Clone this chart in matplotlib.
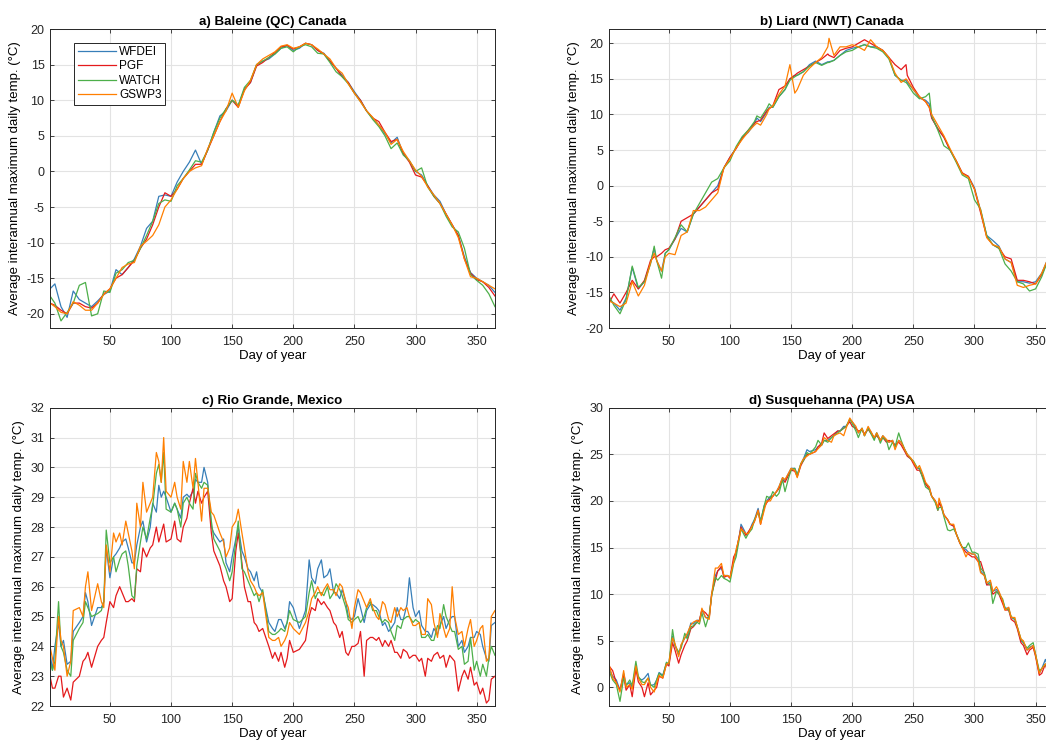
import numpy as np
import matplotlib
matplotlib.use("Agg")
import matplotlib.pyplot as plt

plt.rcParams['font.family'] = ['Liberation Sans', 'DejaVu Sans']
plt.rcParams['axes.unicode_minus'] = False

names = ["WFDEI", "PGF", "WATCH", "GSWP3"]
colors = ["#377eb8", "#e41a1c", "#4daf4a", "#ff7f00"]

# ---- a) Baleine (QC) Canada ----
days_a = [1, 5, 10, 15, 20, 25, 30, 35, 40, 45, 50, 55, 60, 65, 70, 75, 80, 85, 90, 95,
          100, 105, 110, 115, 120, 125, 130, 135, 140, 145, 150, 155, 160, 165, 170, 175,
          180, 185, 190, 195, 200, 205, 210, 215, 220, 225, 230, 235, 240, 245, 250, 255,
          260, 265, 270, 275, 280, 285, 290, 295, 300, 305, 310, 315, 320, 325, 330, 335,
          340, 345, 350, 355, 360, 365]
wfdei_a = [-16.5, -15.8, -19.0, -20.5, -16.8, -18.0, -18.5, -19.0, -18.2, -17.3, -16.8, -13.8,
           -14.5, -13.5, -12.3, -10.5, -8.0, -7.0, -3.5, -3.3, -3.5, -1.5, 0.0, 1.3, 3.0, 1.0,
           3.0, 5.5, 7.8, 8.5, 10.0, 9.3, 11.5, 12.5, 15.0, 15.5, 15.8, 16.5, 17.3, 17.7, 17.0,
           17.3, 18.0, 17.8, 17.0, 16.6, 15.5, 14.5, 13.5, 12.5, 11.2, 10.0, 8.5, 7.5, 6.5, 5.3,
           4.0, 4.8, 2.5, 1.5, 0.0, -0.5, -2.0, -3.3, -4.2, -6.0, -7.5, -9.0, -12.0, -14.2,
           -15.0, -15.5, -16.0, -17.0]
pgf_a = [-18.5, -18.8, -19.5, -20.0, -18.5, -18.5, -19.0, -19.2, -18.5, -17.2, -16.5, -15.0,
         -14.5, -13.5, -12.5, -10.8, -9.5, -7.5, -5.0, -3.0, -3.5, -2.5, -1.0, 0.0, 1.0, 1.0,
         3.0, 5.0, 7.0, 8.8, 10.0, 9.0, 11.5, 12.5, 14.8, 15.3, 16.0, 16.7, 17.5, 17.7, 17.2,
         17.5, 18.0, 17.8, 17.0, 16.5, 15.5, 14.5, 13.3, 12.5, 11.0, 10.0, 8.5, 7.5, 7.0, 5.5,
         4.2, 4.5, 2.5, 1.3, -0.5, -0.8, -2.0, -3.5, -4.5, -6.0, -7.5, -9.0, -12.3, -14.3,
         -15.2, -15.5, -16.3, -17.5]
watch_a = [-17.5, -18.5, -21.0, -19.8, -18.5, -16.0, -15.6, -20.3, -20.0, -16.8, -17.0, -14.3,
           -13.8, -12.8, -12.5, -10.8, -9.0, -7.0, -4.5, -4.0, -4.2, -2.0, -1.0, 0.2, 1.5, 1.3,
           3.0, 5.5, 7.5, 8.8, 10.0, 9.3, 11.8, 12.8, 15.0, 15.5, 16.0, 16.5, 17.3, 17.5, 16.8,
           17.5, 17.8, 17.5, 16.6, 16.5, 15.3, 14.0, 13.3, 12.3, 11.0, 9.8, 8.5, 7.3, 6.3, 5.0,
           3.2, 4.0, 2.3, 1.5, 0.0, 0.5, -2.2, -3.5, -4.5, -6.3, -7.8, -8.5, -10.8, -14.5,
           -15.3, -16.0, -17.2, -19.0]
gswp3_a = [-18.5, -19.0, -19.8, -20.0, -18.3, -18.8, -19.5, -19.5, -18.5, -17.3, -16.5, -15.0,
           -13.5, -13.0, -12.8, -10.5, -9.8, -9.0, -7.5, -5.0, -4.0, -2.5, -1.0, 0.0, 0.5, 0.8,
           3.2, 5.0, 7.0, 8.5, 11.0, 9.0, 11.3, 12.8, 15.0, 15.8, 16.3, 16.8, 17.6, 17.8, 17.3,
           17.5, 18.0, 17.8, 17.2, 16.5, 15.8, 14.5, 13.8, 12.3, 11.0, 9.8, 8.5, 7.6, 6.5, 5.5,
           3.8, 4.5, 2.8, 1.5, 0.2, -0.7, -2.2, -3.3, -4.5, -6.0, -7.5, -9.3, -12.3, -14.8,
           -15.0, -15.5, -16.0, -16.5]

# ---- b) Liard (NWT) Canada ----
days_b = [1, 5, 10, 15, 20, 25, 30, 35, 38, 40, 44, 47, 50, 55, 60, 65, 70, 75, 80, 85, 90,
          95, 100, 105, 110, 115, 120, 122, 125, 130, 132, 135, 140, 145, 149, 153, 155, 160,
          165, 170, 175, 180, 181, 185, 190, 195, 200, 205, 210, 215, 220, 225, 230, 235, 240,
          244, 245, 250, 255, 260, 263, 265, 270, 275, 280, 285, 290, 295, 300, 305, 310, 315,
          320, 325, 330, 335, 340, 345, 350, 355, 360, 365]
wfdei_b = [-16.0, -16.5, -17.5, -15.8, -11.5, -14.5, -13.5, -10.8, -8.8, -10.5, -12.0, -9.5,
           -9.0, -7.5, -6.0, -6.5, -4.0, -3.0, -2.0, -1.0, 0.0, 2.5, 4.0, 5.3, 6.7, 7.5, 8.7,
           9.5, 9.0, 10.3, 11.0, 11.0, 12.5, 13.5, 15.0, 15.5, 15.5, 16.0, 17.0, 17.5, 17.0,
           17.4, 17.4, 17.6, 18.3, 19.0, 19.3, 19.5, 19.8, 19.5, 19.5, 19.0, 18.0, 15.5, 14.8,
           14.8, 14.5, 13.5, 12.3, 12.0, 11.5, 9.5, 8.0, 6.8, 5.0, 3.5, 1.7, 1.3, -0.3, -3.5,
           -7.0, -7.7, -8.5, -10.3, -10.8, -13.5, -13.5, -13.7, -13.5, -12.3, -10.3, -10.0]
pgf_b = [-16.5, -15.2, -16.5, -15.0, -13.3, -14.5, -13.3, -10.5, -10.0, -10.0, -9.5, -9.0,
         -8.8, -7.5, -5.0, -4.5, -4.0, -3.0, -2.0, -1.0, -0.5, 2.5, 4.0, 5.2, 6.7, 7.8, 8.8,
         9.0, 9.2, 10.5, 10.8, 11.2, 13.5, 14.0, 15.0, 15.5, 15.8, 16.3, 16.8, 17.3, 17.8,
         18.5, 18.3, 18.0, 19.0, 19.3, 19.5, 20.0, 20.5, 20.0, 19.5, 19.0, 18.0, 17.0, 16.3,
         17.0, 15.5, 13.8, 12.5, 11.8, 11.0, 9.5, 8.0, 6.8, 5.0, 3.5, 1.8, 1.3, -0.5, -3.8,
         -7.2, -8.3, -8.8, -10.0, -10.3, -13.3, -13.3, -13.5, -13.8, -12.5, -10.5, -10.0]
watch_b = [-15.5, -16.8, -18.0, -16.0, -11.3, -14.3, -13.5, -11.0, -8.5, -10.5, -13.0, -9.5,
           -9.0, -7.3, -5.5, -6.5, -4.0, -2.5, -1.0, 0.5, 1.0, 2.5, 3.5, 5.5, 6.9, 7.8, 9.0,
           9.8, 9.5, 10.8, 11.5, 11.0, 12.5, 13.5, 14.8, 15.3, 15.5, 16.0, 16.8, 17.3, 16.9,
           17.3, 17.3, 17.6, 18.3, 18.8, 19.0, 19.5, 19.8, 19.5, 19.3, 18.8, 17.8, 15.5, 14.8,
           14.5, 14.3, 13.0, 12.2, 12.5, 13.0, 9.8, 7.8, 5.6, 5.0, 3.3, 1.5, 1.0, -2.0, -3.3,
           -7.0, -8.3, -8.8, -11.0, -12.0, -13.5, -13.8, -14.8, -14.5, -12.8, -10.5, -10.2]
gswp3_b = [-16.2, -16.5, -17.0, -16.5, -13.5, -15.5, -14.0, -10.8, -9.5, -10.5, -12.0, -10.0,
           -9.5, -9.7, -7.0, -6.5, -3.5, -3.5, -3.0, -2.0, -1.0, 2.5, 3.8, 5.3, 6.5, 7.6, 8.5,
           8.8, 8.5, 10.0, 10.8, 11.2, 12.8, 14.0, 17.0, 13.0, 13.5, 15.5, 16.5, 17.3, 18.0,
           19.5, 20.7, 18.3, 19.5, 19.5, 19.8, 19.5, 19.0, 20.5, 19.5, 19.0, 18.0, 15.8, 14.5,
           15.0, 14.8, 13.5, 12.5, 11.8, 11.0, 10.0, 8.5, 7.0, 5.2, 3.5, 1.7, 1.2, -0.5, -3.5,
           -7.3, -8.3, -8.6, -10.3, -10.8, -14.0, -14.3, -14.0, -13.8, -12.3, -10.3, -10.0]

# ---- c) Rio Grande, Mexico ----
days_c = [1, 3, 5, 8, 10, 12, 15, 18, 20, 25, 28, 30, 32, 35, 40, 43, 45, 47, 50, 53, 55, 58,
          60, 63, 65, 68, 70, 72, 75, 77, 80, 83, 85, 88, 90, 92, 94, 96, 100, 103, 105, 108,
          110, 113, 115, 118, 120, 122, 125, 127, 130, 133, 135, 140, 143, 145, 148, 150, 153,
          155, 158, 160, 163, 165, 168, 170, 172, 175, 180, 183, 185, 188, 190, 193, 195, 197,
          200, 205, 210, 213, 215, 218, 220, 223, 225, 228, 230, 233, 235, 238, 240, 243, 245,
          248, 250, 253, 255, 258, 260, 263, 265, 268, 270, 273, 275, 278, 280, 283, 285, 288,
          290, 293, 295, 298, 300, 303, 305, 308, 310, 313, 315, 318, 320, 323, 325, 328, 330,
          332, 335, 338, 340, 343, 345, 348, 350, 353, 355, 358, 360, 362, 365]
wfdei_c = [23.8, 23.2, 24.0, 24.8, 24.0, 24.2, 23.4, 23.5, 24.5, 24.8, 25.0, 25.8, 25.5, 24.7,
           25.3, 25.3, 25.5, 27.3, 26.3, 27.0, 27.1, 27.3, 27.5, 27.6, 27.3, 26.8, 26.8, 27.4,
           28.0, 28.2, 27.5, 28.0, 28.8, 28.5, 29.4, 29.0, 29.2, 29.0, 28.5, 28.8, 28.6, 28.3,
           29.0, 29.1, 29.0, 29.2, 29.6, 29.5, 29.5, 30.0, 29.5, 28.0, 27.8, 27.5, 27.6, 26.8,
           26.5, 27.0, 27.6, 28.0, 27.2, 27.0, 26.6, 26.5, 26.2, 26.5, 26.0, 25.8, 24.8, 24.6,
           24.5, 24.9, 24.9, 24.6, 24.8, 25.5, 25.3, 24.6, 25.2, 26.9, 26.3, 26.1, 26.6, 26.9,
           26.3, 26.4, 26.6, 25.8, 25.8, 25.6, 25.9, 25.5, 25.0, 24.9, 25.0, 25.6, 25.3, 24.8,
           25.2, 25.4, 25.4, 25.3, 25.2, 24.7, 24.8, 24.5, 24.6, 24.8, 25.3, 24.9, 24.9, 25.4,
           26.3, 25.3, 25.0, 25.2, 24.7, 24.5, 24.5, 24.3, 24.6, 24.4, 24.7, 25.0, 24.6, 24.9,
           25.0, 25.0, 24.0, 24.2, 23.8, 24.0, 24.3, 24.3, 24.5, 24.4, 24.0, 23.6, 23.5, 24.7,
           24.8]
pgf_c = [23.0, 22.6, 22.6, 23.0, 23.0, 22.3, 22.6, 22.2, 22.8, 23.0, 23.5, 23.6, 23.8, 23.3,
         24.0, 24.2, 24.3, 24.8, 25.5, 25.3, 25.7, 26.0, 25.8, 25.5, 25.5, 25.6, 25.5, 26.6,
         26.5, 27.3, 27.0, 27.3, 27.4, 28.0, 27.5, 27.8, 28.1, 27.5, 27.6, 28.2, 27.6, 27.5,
         28.0, 28.3, 28.8, 29.3, 28.8, 29.2, 28.8, 29.0, 29.2, 27.8, 27.2, 26.7, 26.2, 26.0,
         25.5, 25.6, 27.2, 27.8, 26.8, 26.0, 25.5, 25.5, 24.8, 24.7, 24.5, 24.6, 24.0, 23.6,
         23.8, 23.5, 23.8, 23.3, 23.6, 24.2, 23.8, 23.9, 24.2, 25.0, 25.3, 25.2, 25.6, 25.4,
         25.5, 25.3, 25.2, 24.8, 24.7, 24.3, 24.5, 23.8, 23.7, 24.0, 24.0, 24.1, 24.5, 23.0,
         24.2, 24.3, 24.3, 24.2, 24.3, 24.0, 24.2, 24.0, 24.2, 23.8, 23.8, 23.6, 23.9, 23.8,
         23.6, 23.7, 23.7, 23.5, 23.6, 23.0, 23.6, 23.5, 23.7, 23.8, 23.6, 23.7, 23.3, 23.7,
         23.6, 23.5, 22.5, 23.0, 23.2, 22.9, 23.3, 22.7, 22.8, 22.4, 22.6, 22.1, 22.2, 22.9,
         23.0]
watch_c = [23.5, 23.2, 23.5, 25.5, 24.0, 23.8, 23.2, 23.0, 24.2, 24.6, 24.8, 25.5, 25.3, 25.0,
           25.1, 25.2, 25.5, 27.9, 26.8, 27.0, 26.5, 26.9, 27.1, 27.2, 26.7, 25.7, 25.6, 26.7,
           27.5, 28.0, 27.6, 28.3, 28.7, 29.8, 30.1, 29.5, 30.5, 28.6, 28.5, 28.8, 28.6, 28.0,
           28.8, 29.0, 28.8, 28.6, 29.8, 29.5, 29.3, 29.5, 29.4, 28.2, 27.6, 27.2, 26.8, 26.6,
           26.2, 26.5, 27.5, 28.2, 26.6, 26.5, 26.2, 26.0, 25.7, 25.8, 25.5, 25.9, 24.5, 24.4,
           24.4, 24.5, 24.6, 24.5, 24.8, 25.2, 24.9, 24.8, 25.0, 25.8, 26.2, 25.6, 25.8, 25.8,
           25.7, 26.0, 25.6, 25.8, 26.1, 25.9, 25.7, 25.3, 24.9, 24.8, 24.9, 25.0, 24.8, 25.0,
           25.3, 25.5, 25.2, 25.2, 25.0, 24.8, 24.9, 24.8, 24.5, 24.2, 24.7, 24.6, 24.9, 25.0,
           25.0, 24.8, 24.9, 24.8, 24.3, 24.3, 24.4, 24.2, 24.2, 24.7, 24.6, 25.4, 25.0, 24.7,
           24.5, 24.5, 23.9, 24.0, 23.4, 23.5, 24.3, 23.2, 23.5, 23.0, 23.4, 23.0, 23.6, 24.0,
           23.7]
gswp3_c = [24.0, 23.6, 23.2, 25.0, 24.2, 24.0, 23.0, 23.5, 25.2, 25.3, 25.0, 26.0, 26.5, 25.2,
           26.1, 25.5, 25.3, 27.4, 26.5, 27.8, 27.5, 27.8, 27.4, 28.2, 27.8, 27.2, 26.6, 28.8,
           28.0, 29.5, 28.5, 28.8, 29.0, 30.5, 30.2, 29.5, 31.0, 29.2, 29.0, 29.5, 29.0, 28.6,
           30.2, 29.5, 30.2, 29.3, 30.3, 29.5, 28.2, 29.3, 29.3, 28.5, 28.4, 27.8, 27.5, 27.0,
           27.3, 28.0, 28.2, 28.6, 27.8, 27.3, 26.5, 26.2, 26.0, 25.8, 25.7, 25.8, 24.3, 24.2,
           24.2, 24.3, 24.0, 24.2, 24.4, 24.8, 24.6, 24.4, 24.8, 25.2, 25.6, 25.8, 26.0, 25.7,
           25.9, 26.1, 25.9, 25.9, 25.7, 26.1, 26.0, 25.5, 25.3, 24.6, 25.3, 25.9, 25.8, 25.5,
           25.3, 25.6, 25.3, 25.0, 24.9, 25.5, 25.4, 24.9, 24.8, 25.3, 25.0, 25.3, 25.2, 25.3,
           25.0, 24.7, 24.7, 24.8, 24.4, 24.4, 25.6, 25.4, 24.8, 24.3, 25.1, 24.6, 24.3, 24.6,
           26.0, 25.0, 24.4, 24.5, 24.0, 24.6, 24.9, 24.0, 24.2, 24.6, 24.7, 23.5, 23.6, 25.0,
           25.2]

# ---- d) Susquehanna (PA) USA ----
days_d = [1, 4, 7, 10, 13, 15, 18, 20, 23, 25, 28, 30, 33, 35, 38, 40, 42, 45, 48, 50, 53,
          55, 58, 60, 63, 65, 68, 70, 73, 75, 77, 80, 83, 85, 88, 90, 93, 95, 98, 100, 103,
          105, 108, 109, 113, 115, 118, 120, 123, 125, 128, 130, 133, 135, 138, 140, 143, 145,
          148, 150, 153, 155, 158, 160, 163, 165, 170, 172, 175, 177, 180, 183, 185, 188, 190,
          193, 195, 198, 200, 203, 205, 208, 210, 213, 215, 218, 220, 223, 225, 228, 230, 233,
          235, 238, 240, 243, 245, 248, 250, 253, 255, 258, 260, 263, 265, 268, 270, 271, 273,
          275, 278, 280, 283, 285, 288, 290, 293, 295, 298, 300, 303, 305, 308, 310, 313, 315,
          318, 320, 323, 325, 328, 330, 333, 335, 338, 340, 343, 345, 348, 350, 353, 355, 358,
          360, 363, 365]
wfdei_d = [2.0, 1.2, 0.8, -0.3, 1.5, 0.3, 0.5, 0.0, 2.3, 1.0, 0.8, 1.0, 1.5, 0.2, 0.3, 0.8,
           1.6, 1.3, 2.6, 2.5, 5.5, 4.5, 3.5, 4.5, 5.3, 5.5, 6.9, 6.8, 7.2, 7.2, 8.3, 7.5, 7.5,
           10.0, 12.0, 12.5, 12.8, 12.0, 12.0, 11.8, 13.5, 14.5, 16.5, 17.5, 16.5, 16.5, 17.5,
           18.0, 19.2, 17.8, 19.5, 20.0, 20.5, 20.5, 21.0, 21.5, 22.5, 22.2, 23.0, 23.5, 23.5,
           22.8, 24.0, 24.5, 25.5, 25.3, 25.5, 25.8, 26.0, 26.5, 26.5, 26.8, 27.0, 27.5, 27.5,
           28.0, 28.0, 28.7, 28.5, 27.8, 27.3, 27.8, 27.0, 27.8, 27.5, 26.7, 27.3, 26.5, 27.0,
           26.5, 26.3, 26.5, 25.8, 26.5, 26.3, 25.5, 25.0, 24.5, 24.2, 23.5, 23.5, 22.5, 21.8,
           21.5, 20.5, 20.0, 19.2, 19.8, 19.5, 18.5, 18.0, 17.5, 17.3, 16.5, 15.5, 15.0, 14.8,
           14.5, 14.3, 14.3, 13.8, 12.5, 12.0, 11.0, 11.3, 10.3, 10.5, 10.2, 9.3, 8.5, 8.5, 7.5,
           7.3, 6.5, 5.0, 4.8, 4.0, 4.3, 4.5, 3.5, 1.5, 2.0, 3.0, 2.2, 1.5, 2.0]
pgf_d = [2.3, 1.8, 0.5, -0.3, 1.2, -0.3, 0.3, -1.0, 2.0, 0.6, 0.0, -1.0, 0.5, -0.8, -0.3, 0.0,
         1.2, 1.0, 2.5, 2.3, 4.8, 4.0, 2.6, 3.5, 4.5, 5.0, 6.3, 6.5, 7.0, 7.2, 8.3, 8.0, 7.5,
         10.0, 11.5, 12.5, 13.0, 11.8, 12.0, 11.7, 14.0, 14.5, 16.5, 17.2, 16.3, 16.7, 17.3,
         17.8, 19.0, 17.5, 19.3, 19.8, 20.3, 20.5, 21.0, 21.3, 22.3, 22.0, 22.8, 23.3, 23.2,
         22.6, 23.8, 24.3, 25.0, 25.0, 25.3, 25.8, 26.2, 27.3, 26.7, 27.0, 27.2, 27.5, 27.5,
         27.8, 28.0, 28.5, 28.0, 27.8, 27.5, 27.6, 27.2, 27.7, 27.3, 26.8, 27.0, 26.5, 26.8,
         26.3, 26.5, 26.3, 26.0, 26.3, 26.0, 25.3, 24.8, 24.5, 24.0, 23.3, 23.3, 22.5, 21.8,
         21.3, 20.5, 20.0, 19.0, 19.8, 19.3, 18.5, 18.0, 17.5, 17.3, 16.5, 15.5, 15.0, 14.5,
         14.3, 14.0, 14.0, 13.5, 13.5, 12.2, 11.0, 11.0, 10.0, 10.3, 10.0, 9.0, 8.3, 8.3, 7.3,
         7.0, 6.3, 4.8, 4.5, 3.5, 4.0, 4.3, 3.3, 1.3, 1.5, 2.5, 1.5, 1.0, 1.8]
watch_d = [1.8, 0.8, 0.3, -1.5, 1.0, 0.2, 0.8, 0.2, 2.8, 1.2, 0.6, 0.5, 1.0, 0.3, 0.0, 0.8,
           1.5, 1.2, 2.7, 2.5, 6.2, 4.5, 3.8, 4.2, 5.8, 5.2, 6.5, 6.6, 7.0, 6.8, 8.0, 6.5, 7.8,
           9.8, 11.8, 11.5, 12.0, 11.7, 11.5, 11.3, 13.3, 14.0, 16.2, 17.0, 16.0, 16.5, 17.0,
           18.0, 18.8, 17.8, 19.5, 20.5, 20.3, 21.0, 20.5, 20.8, 22.3, 21.0, 22.5, 23.3, 23.5,
           22.8, 24.0, 24.3, 25.2, 25.0, 25.8, 26.5, 26.0, 26.5, 26.3, 26.8, 27.0, 27.3, 27.5,
           27.8, 28.0, 28.8, 28.3, 27.5, 26.8, 27.8, 27.0, 27.8, 27.3, 26.5, 27.3, 26.2, 26.8,
           26.5, 25.5, 26.3, 25.8, 27.3, 26.5, 25.5, 25.0, 24.5, 24.3, 23.6, 23.5, 22.3, 21.5,
           21.2, 20.5, 19.8, 19.0, 19.3, 19.3, 18.3, 16.9, 16.8, 17.0, 16.5, 15.6, 15.0, 15.0,
           15.5, 14.5, 14.5, 14.3, 12.8, 12.3, 11.3, 11.0, 9.0, 10.3, 10.0, 9.5, 8.5, 8.3, 7.6,
           7.3, 6.5, 5.2, 4.8, 4.2, 4.5, 4.8, 3.5, 1.8, 2.0, 2.5, 2.0, 1.3, 2.0]
gswp3_d = [2.5, 1.0, 0.5, -0.5, 1.8, 0.0, 0.3, -0.2, 2.3, 1.0, 0.3, 0.3, 1.0, 0.0, -0.5, 0.5,
           1.3, 1.0, 2.5, 2.6, 5.3, 4.7, 3.3, 4.6, 5.3, 5.8, 6.7, 7.0, 7.2, 7.0, 8.5, 7.5, 7.3,
           10.0, 12.8, 12.8, 13.3, 12.0, 12.0, 11.8, 13.5, 14.8, 16.3, 17.0, 16.5, 16.5, 17.3,
           17.8, 19.0, 17.5, 19.0, 20.0, 20.0, 20.5, 21.0, 21.5, 22.5, 22.3, 23.0, 23.5, 23.3,
           22.5, 24.0, 24.5, 24.8, 25.0, 25.3, 25.6, 26.0, 26.8, 26.5, 26.3, 27.0, 27.2, 27.3,
           27.0, 27.8, 28.9, 28.5, 28.0, 27.3, 27.8, 27.0, 28.0, 27.5, 26.8, 27.3, 26.5, 27.0,
           26.6, 26.3, 26.5, 25.5, 26.5, 26.3, 25.5, 25.0, 24.6, 24.2, 23.5, 23.8, 22.8, 22.0,
           21.5, 20.5, 20.0, 19.3, 20.3, 19.5, 18.5, 18.0, 17.5, 17.5, 16.5, 15.5, 15.0, 14.0,
           14.5, 14.3, 14.3, 13.5, 12.3, 12.0, 11.2, 11.5, 10.3, 10.8, 10.3, 9.3, 8.3, 8.6, 7.5,
           7.5, 6.5, 5.2, 5.0, 4.0, 4.2, 4.5, 3.5, 1.5, 2.0, 2.5, 2.3, 1.5, 2.2]

panels = [
    ("a) Baleine (QC) Canada", days_a, [wfdei_a, pgf_a, watch_a, gswp3_a], (-22, 20), np.arange(-20, 21, 5)),
    ("b) Liard (NWT) Canada", days_b, [wfdei_b, pgf_b, watch_b, gswp3_b], (-20, 22), np.arange(-20, 21, 5)),
    ("c) Rio Grande, Mexico", days_c, [wfdei_c, pgf_c, watch_c, gswp3_c], (22, 32), np.arange(22, 33, 1)),
    ("d) Susquehanna (PA) USA", days_d, [wfdei_d, pgf_d, watch_d, gswp3_d], (-2, 30), np.arange(0, 31, 5)),
]

positions = [
    [0.0478, 0.5597, 0.4254, 0.4013],
    [0.5822, 0.5597, 0.4254, 0.4013],
    [0.0478, 0.0523, 0.4254, 0.4004],
    [0.5822, 0.0523, 0.4254, 0.4004],
]

fig = plt.figure(figsize=(10.46, 7.45), dpi=100)

for i, (title, days, series, ylim, yticks) in enumerate(panels):
    ax = fig.add_axes(positions[i])
    for y, name, c in zip(series, names, colors):
        ax.plot(days, y, color=c, lw=0.9, label=name)
    ax.set_xlim(1, 365)
    ax.set_ylim(*ylim)
    ax.set_xticks(np.arange(50, 351, 50))
    ax.set_yticks(yticks)
    ax.grid(True, color="#e3e3e3", lw=0.8)
    ax.set_axisbelow(True)
    ax.tick_params(direction="in", length=3, width=0.6, top=True, right=True,
                   labelsize=9, colors="#262626")
    ax.tick_params(axis="x", pad=6)
    ax.tick_params(axis="y", pad=4)
    for s in ax.spines.values():
        s.set_color("#262626")
        s.set_linewidth(0.7)
    ax.set_title(title, fontsize=9.6, fontweight="bold", pad=3)
    ax.set_xlabel("Day of year", fontsize=9.5, labelpad=1)
    ax.set_ylabel("Average interannual maximum daily temp. (°C)", fontsize=9.5, labelpad=4)
    if i == 0:
        leg = ax.legend(loc="upper left", bbox_to_anchor=(0.055, 0.955), fontsize=8.5,
                        fancybox=False, framealpha=1, edgecolor="#262626",
                        handlelength=3.2, borderpad=0.3, labelspacing=0.2,
                        handletextpad=0.3, borderaxespad=0)
        leg.get_frame().set_linewidth(0.7)

fig.savefig("out.png", dpi=100)
